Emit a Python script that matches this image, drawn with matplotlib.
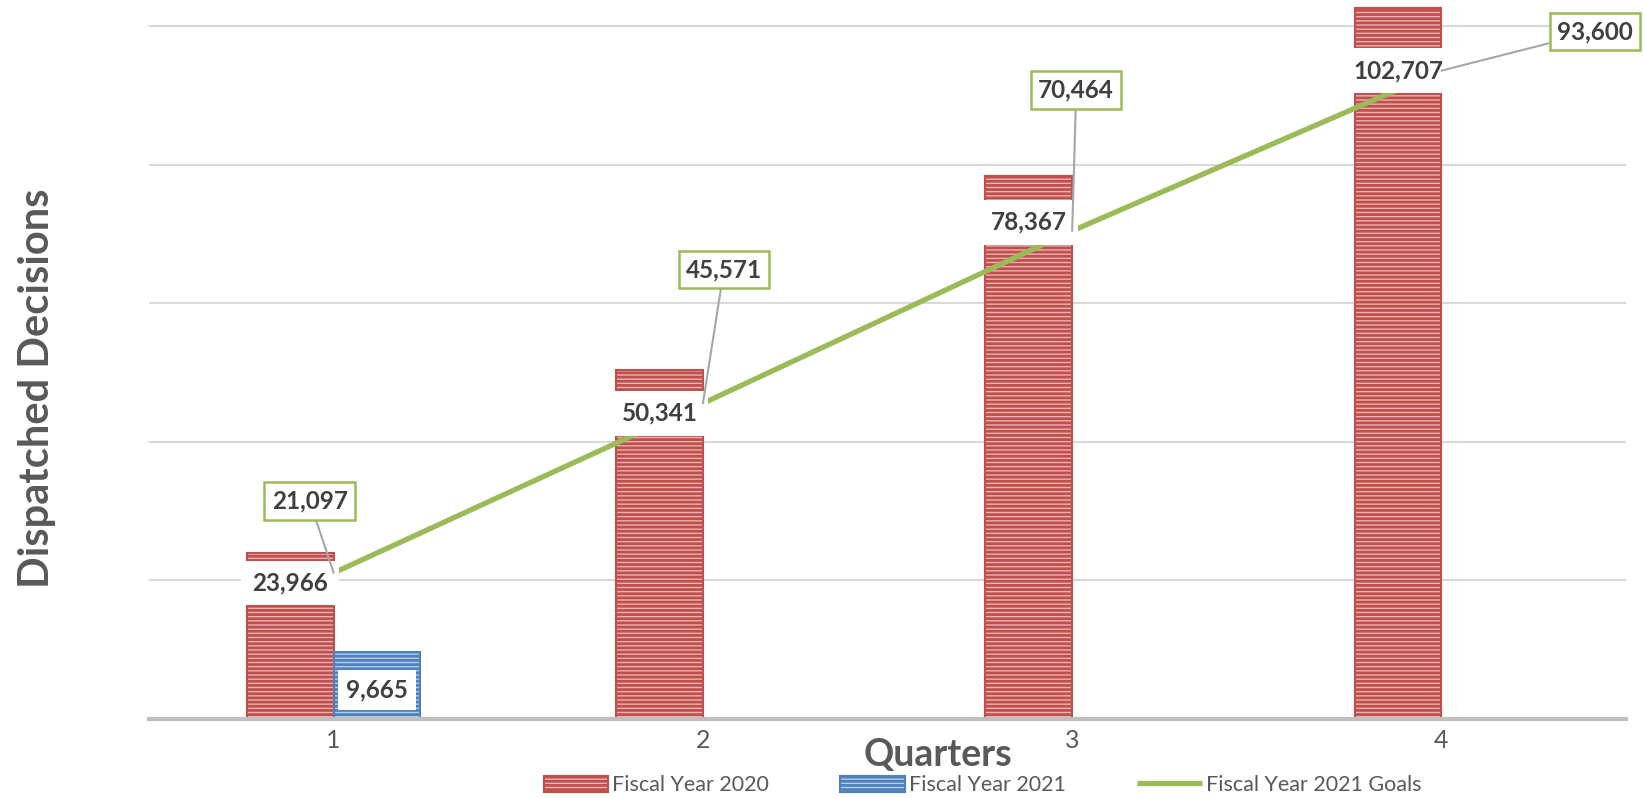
import numpy as np
import matplotlib
matplotlib.use("Agg")
import matplotlib.pyplot as plt

# data
quarters = ["1", "2", "3", "4"]
fy2020 = [23966, 50341, 78367, 102707]
fy2021 = [9665]  # only Q1 reported so far
fy2021_goals = [21097, 45571, 70464, 93600]

# goal label positions (data coords)
goal_label_x = [-0.065, 1.057, 2.011, 3.415]
goal_label_y = [31470, 64900, 90770, 99240]
# how far below the bar top each value label sits (pixels)
bar_label_drop = [30, 43, 46, 63]

RED, RED_LIGHT = "#c0504d", "#eab3b2"
BLUE, BLUE_LIGHT = "#4f81bd", "#b3cbe8"
GREEN = "#9bbb59"
TXT = "#404040"

plt.rcParams["font.family"] = ["Lato", "DejaVu Sans"]
plt.rcParams["hatch.linewidth"] = 2.0

fig = plt.figure(figsize=(16.43, 7.98), dpi=100)
ax = fig.add_axes([0.0907, 0.099, 0.899, 0.901])

x = np.arange(len(quarters))
w = 0.235
bars20 = ax.bar(x - w / 2, fy2020, w, facecolor=RED_LIGHT, edgecolor=RED,
                hatch="----", linewidth=1.5, zorder=2, label="Fiscal Year 2020")
bars21 = ax.bar(x[:len(fy2021)] + w / 2, fy2021, w, facecolor=BLUE_LIGHT, edgecolor=BLUE,
                hatch="----", linewidth=1.5, zorder=2, label="Fiscal Year 2021")
goal_line, = ax.plot(x, fy2021_goals, color=GREEN, lw=3.8, zorder=3, solid_capstyle="butt",
                     label="Fiscal Year 2021 Goals")

# bar value labels (white boxes inside top of bar)
for b, v, d in zip(bars20, fy2020, bar_label_drop):
    ax.annotate(f"{v:,}", xy=(b.get_x() + b.get_width() / 2, v), xytext=(0, -d),
                textcoords="offset pixels", ha="center", va="center",
                fontsize=17.5, fontweight="bold", color=TXT, zorder=6,
                bbox=dict(boxstyle="square,pad=0.45", fc="white", ec="none"))
for b, v in zip(bars21, fy2021):
    ax.annotate(f"{v:,}", xy=(b.get_x() + b.get_width() / 2, v), xytext=(0, -38),
                textcoords="offset pixels", ha="center", va="center",
                fontsize=17.5, fontweight="bold", color=TXT, zorder=6,
                bbox=dict(boxstyle="square,pad=0.35", fc="white", ec="none"))

# goal labels with leader lines
for xi, v, lx, ly in zip(x, fy2021_goals, goal_label_x, goal_label_y):
    ax.annotate(f"{v:,}", xy=(xi, v), xytext=(lx, ly), ha="center", va="center",
                fontsize=17.5, fontweight="bold", color=TXT, zorder=7,
                annotation_clip=False,
                bbox=dict(boxstyle="square,pad=0.3", fc="white", ec=GREEN, lw=1.8),
                arrowprops=dict(arrowstyle="-", color="#a6a6a6", lw=1.5,
                                shrinkA=0, shrinkB=0))

ax.set_xlim(-0.5, 3.5)
ax.set_ylim(0, 103800)
ax.set_yticks(np.arange(0, 100001, 20000))
ax.set_yticklabels([])
ax.grid(axis="y", color="#d9d9d9", lw=1.5, zorder=0)
ax.set_axisbelow(True)
for s in ["top", "right", "left"]:
    ax.spines[s].set_visible(False)
ax.spines["bottom"].set_color("#bfbfbf")
ax.spines["bottom"].set_linewidth(3)
ax.tick_params(axis="y", length=0)
ax.tick_params(axis="x", length=0, pad=7, labelsize=18, labelcolor="#595959")
ax.set_xticks(x)
ax.set_xticklabels(quarters)

fig.text(0.0225, 0.514, "Dispatched Decisions", rotation=90, ha="center", va="center",
         fontsize=30, fontweight="bold", color="#595959")
fig.text(0.571, 0.054, "Quarters", ha="center", va="center",
         fontsize=27, fontweight="bold", color="#595959")

fig.legend(handles=[bars20, bars21, goal_line], loc="center", bbox_to_anchor=(0.598, 0.016),
           ncol=3, frameon=False, fontsize=15.5, handlelength=3.0, handleheight=0.8,
           handletextpad=0.2, columnspacing=3.3, labelcolor="#595959")

fig.savefig("out.png", dpi=100)
